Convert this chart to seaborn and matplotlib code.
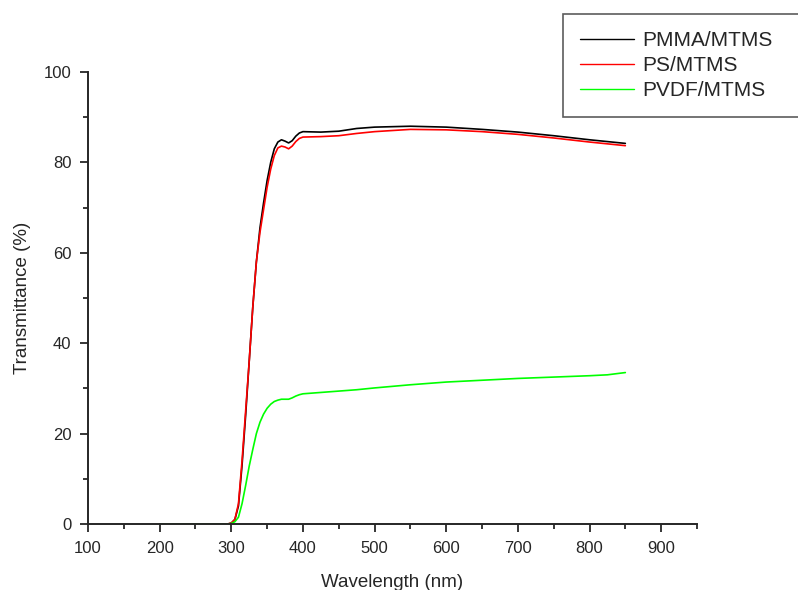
import numpy as np
import pandas as pd
import matplotlib
matplotlib.use("Agg")
import matplotlib.pyplot as plt
import seaborn as sns
from matplotlib.ticker import MultipleLocator

# wavelength grid (nm) and transmittance (%)
wavelength = [200, 250, 290, 295, 300, 305, 310, 315, 320, 325, 330, 335, 340,
              345, 350, 355, 360, 365, 370, 375, 380, 385, 390, 395, 400, 425,
              450, 475, 500, 550, 600, 650, 700, 750, 800, 825, 850]

pmma = [0, 0, 0, 0, 0.2, 1.0, 4.0, 13, 24, 36, 48, 58, 65.5,
        71, 76, 80, 83, 84.5, 85.0, 84.7, 84.3, 84.8, 85.8, 86.5, 86.8, 86.7,
        86.9, 87.5, 87.8, 88.0, 87.8, 87.3, 86.7, 85.9, 85.0, 84.6, 84.2]

ps = [0, 0, 0, 0, 0.2, 1.0, 4.5, 14, 25, 36, 48, 58, 64.5,
      69.5, 74.5, 78.5, 81.5, 83.2, 83.6, 83.4, 83.0, 83.6, 84.6, 85.3, 85.6, 85.7,
      85.9, 86.4, 86.8, 87.3, 87.2, 86.8, 86.2, 85.4, 84.5, 84.1, 83.7]

pvdf = [0, 0, 0, 0, 0.1, 0.5, 1.5, 4.5, 8.5, 12.8, 16.5, 20, 22.5,
        24.3, 25.6, 26.5, 27.1, 27.4, 27.6, 27.6, 27.6, 27.9, 28.3, 28.6, 28.8, 29.1,
        29.4, 29.7, 30.1, 30.8, 31.4, 31.8, 32.2, 32.5, 32.8, 33.0, 33.5]

series_names = ["PMMA/MTMS", "PS/MTMS", "PVDF/MTMS"]
series_colors = ["#000000", "#ff0000", "#00ff00"]

df = pd.concat([
    pd.DataFrame({"Wavelength": wavelength, "T": vals, "Sample": name})
    for name, vals in zip(series_names, [pmma, ps, pvdf])
])

sns.set_style("ticks")
plt.rcParams["font.family"] = ["Liberation Sans", "DejaVu Sans"]

fig = plt.figure(figsize=(7.98, 5.90), dpi=100)
ax = fig.add_axes([0.1103, 0.1119, 0.7631, 0.7661])

sns.lineplot(data=df, x="Wavelength", y="T", hue="Sample",
             palette=dict(zip(series_names, series_colors)),
             linewidth=1.2, ax=ax, legend=False)

ax.set_xlim(100, 950)
ax.set_ylim(0, 100)
ax.xaxis.set_major_locator(MultipleLocator(100))
ax.xaxis.set_minor_locator(MultipleLocator(50))
ax.yaxis.set_major_locator(MultipleLocator(20))
ax.yaxis.set_minor_locator(MultipleLocator(10))
ax.set_xticks(range(100, 1000, 100))
ax.tick_params(which="major", length=6, width=1.3, labelsize=12, pad=6, direction="out")
ax.tick_params(which="minor", length=3.5, width=1.3, direction="out")
sns.despine(ax=ax)
for sp in ["left", "bottom"]:
    ax.spines[sp].set_linewidth(1.4)

ax.set_xlabel("Wavelength (nm)", fontsize=13.5, labelpad=13)
ax.set_ylabel("Transmittance (%)", fontsize=13.5, labelpad=9)

# legend box runs off the right edge of the figure, as in the original
handles = [plt.Line2D([], [], color=c, linewidth=1.0) for c in series_colors]
leg = fig.legend(handles, series_names, loc="upper left",
                 bbox_to_anchor=(0.7055, 0.803, 0.31, 0.173), mode="expand",
                 bbox_transform=fig.transFigure,
                 fontsize=15, frameon=True, fancybox=False, handlelength=2.6,
                 handletextpad=0.4, labelspacing=0.3, borderpad=0.8,
                 borderaxespad=0)
leg.get_frame().set_edgecolor("#333333")
leg.get_frame().set_linewidth(1.2)

fig.savefig("out.png", dpi=100)
